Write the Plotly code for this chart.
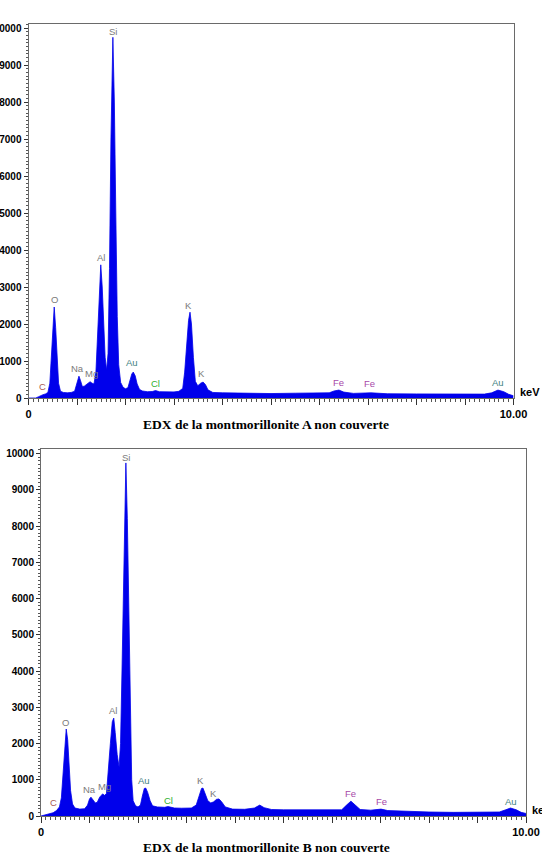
import plotly.graph_objects as go

W, H = 542, 855

# ---------------- data ----------------
energy_a = [0.00, 0.15, 0.20, 0.25, 0.30, 0.35, 0.40, 0.44, 0.47, 0.50, 0.53, 0.56, 0.59, 0.62, 0.66,
            0.72, 0.80, 0.88, 0.95, 0.99, 1.02, 1.04, 1.07, 1.11, 1.15, 1.20, 1.24, 1.27, 1.31, 1.35,
            1.39, 1.42, 1.45, 1.49, 1.52, 1.55, 1.58, 1.61, 1.64, 1.67, 1.70, 1.74, 1.77, 1.80, 1.83,
            1.86, 1.90, 1.95, 2.00, 2.05, 2.09, 2.13, 2.16, 2.20, 2.24, 2.29, 2.35, 2.45, 2.55, 2.62,
            2.70, 2.85, 3.00, 3.10, 3.18, 3.22, 3.26, 3.30, 3.33, 3.36, 3.40, 3.44, 3.49, 3.55, 3.60,
            3.65, 3.70, 3.80, 4.00, 4.30, 4.60, 5.00, 5.50, 6.00, 6.20, 6.30, 6.40, 6.50, 6.70, 7.06,
            7.40, 8.00, 8.50, 9.00, 9.40, 9.55, 9.68, 9.80, 9.90, 10.00]
counts_a = [0, 0, 30, 70, 90, 110, 150, 400, 1000, 1900, 2460, 1900, 1000, 400, 180,
            150, 140, 150, 180, 350, 540, 590, 480, 310, 320, 380, 430, 440, 400, 380,
            700, 1500, 2700, 3600, 3000, 1900, 1100, 750, 1200, 3500, 7000, 9750, 8000, 5000, 2200,
            900, 420, 290, 250, 280, 450, 650, 700, 600, 380, 230, 190, 170, 175, 200,
            170, 160, 165, 180, 260, 700, 1500, 2100, 2320, 2000, 1100, 450, 330, 400, 430,
            360, 220, 150, 140, 130, 125, 120, 130, 125, 140, 190, 215, 160, 125, 140,
            115, 110, 110, 100, 105, 140, 215, 170, 100, 60]

energy_b = [0.00, 0.05, 0.15, 0.25, 0.32, 0.38, 0.42, 0.45, 0.48, 0.52, 0.55, 0.58, 0.61, 0.65, 0.70,
            0.80, 0.90, 0.96, 1.00, 1.03, 1.07, 1.12, 1.16, 1.21, 1.27, 1.31, 1.35, 1.39, 1.43, 1.47,
            1.50, 1.53, 1.57, 1.61, 1.64, 1.67, 1.71, 1.75, 1.78, 1.81, 1.84, 1.87, 1.90, 1.95, 2.00,
            2.05, 2.09, 2.13, 2.16, 2.20, 2.25, 2.30, 2.40, 2.55, 2.62, 2.75, 2.90, 3.10, 3.20, 3.26,
            3.31, 3.34, 3.38, 3.44, 3.50, 3.56, 3.62, 3.67, 3.72, 3.80, 3.95, 4.20, 4.40, 4.51, 4.60,
            4.75, 5.00, 5.50, 6.00, 6.20, 6.30, 6.39, 6.48, 6.58, 6.80, 7.01, 7.15, 7.50, 8.00, 8.50,
            9.00, 9.45, 9.58, 9.68, 9.80, 9.90, 10.00]
counts_b = [0, 20, 60, 90, 150, 250, 500, 1000, 1700, 2400, 2100, 1400, 700, 330, 220,
            190, 200, 300, 470, 520, 450, 360, 380, 520, 610, 570, 620, 1200, 2000, 2600,
            2700, 2300, 1700, 1350, 2000, 4000, 7500, 9740, 8200, 5500, 2600, 1000, 420, 280, 250,
            300, 550, 760, 770, 650, 420, 280, 250, 240, 260, 220, 215, 220, 300, 550,
            760, 770, 650, 420, 360, 390, 460, 470, 400, 250, 190, 185, 220, 300, 230,
            180, 170, 165, 160, 170, 300, 410, 300, 180, 160, 190, 150, 130, 110, 100,
            100, 110, 170, 220, 170, 100, 70]

# element labels: text, energy, counts, colour key
labels_a = [("C", 0.28, 300, "c"), ("O", 0.53, 2650, "g"), ("Na", 1.00, 810, "g"), ("Mg", 1.30, 650, "g"),
            ("Al", 1.50, 3810, "g"), ("Si", 1.74, 9920, "g"), ("Au", 2.14, 950, "au"), ("Cl", 2.62, 400, "cl"),
            ("K", 3.30, 2510, "g"), ("K", 3.56, 650, "g"), ("Fe", 6.40, 430, "fe"), ("Fe", 7.04, 380, "fe"),
            ("Au", 9.68, 430, "au")]
labels_b = [("C", 0.25, 360, "c"), ("O", 0.50, 2590, "g"), ("Na", 1.00, 740, "g"), ("Mg", 1.30, 820, "g"),
            ("Al", 1.48, 2920, "g"), ("Si", 1.75, 9900, "g"), ("Au", 2.12, 970, "au"), ("Cl", 2.62, 440, "cl"),
            ("K", 3.28, 990, "g"), ("K", 3.55, 610, "g"), ("Fe", 6.39, 630, "fe"), ("Fe", 7.03, 390, "fe"),
            ("Au", 9.69, 410, "au")]

titles = ["EDX de la montmorillonite A non couverte", "EDX de la montmorillonite B non couverte"]
y_ticks = [0, 1000, 2000, 3000, 4000, 5000, 6000, 7000, 8000, 9000, 10000]
x_tick_text = ["0", "", "", "", "", "", "", "", "", "", "10.00"]

# ---------------- styling ----------------
label_colors = {"g": "#7a7a7a", "c": "#a85a55", "au": "#3f7f82", "cl": "#2fb02f", "fe": "#a848a8"}
fill_col = "rgb(0,0,235)"

# panel geometry in pixels
panels = [
    dict(left=28.5, right=513.5, top=24, bottom=398, ymax=10110, cap=424),
    dict(left=41, right=526, top=449, bottom=816, ymax=10124, cap=847),
]

fig = go.Figure()
data = [(energy_a, counts_a), (energy_b, counts_b)]
for i, (ex, cy) in enumerate(data):
    sfx = "" if i == 0 else "2"
    fig.add_trace(go.Scatter(x=ex, y=cy, mode="lines", fill="tozeroy",
                             line=dict(color=fill_col, width=0.8), fillcolor=fill_col,
                             xaxis="x" + sfx, yaxis="y" + sfx, showlegend=False, hoverinfo="skip"))

layout = dict(width=W, height=H, margin=dict(l=0, r=0, t=0, b=0, autoexpand=False),
              paper_bgcolor="white", plot_bgcolor="white", showlegend=False)
annotations = []
for i, p in enumerate(panels):
    sfx = "" if i == 0 else "2"
    xd = [p["left"] / W, p["right"] / W]
    yd = [1 - p["bottom"] / H, 1 - p["top"] / H]
    layout["xaxis" + sfx] = dict(
        domain=xd, range=[0, 10], anchor="y" + sfx, showgrid=False, zeroline=False, automargin=False,
        showline=True, linecolor="#6a6a6a", linewidth=1, mirror=True,
        tickmode="array", tickvals=list(range(11)), ticktext=x_tick_text,
        ticks="outside", ticklen=6, tickcolor="#333", tickwidth=1,
        minor=dict(dtick=0.1, ticks="outside", ticklen=3, tickcolor="#555", tickwidth=1),
        tickfont=dict(family="Liberation Sans", size=11, color="black", weight="bold"),
        fixedrange=True)
    layout["yaxis" + sfx] = dict(
        domain=yd, range=[0, p["ymax"]], anchor="x" + sfx, showgrid=False, zeroline=False, automargin=False,
        showline=True, linecolor="#6a6a6a", linewidth=1, mirror=True,
        tickmode="array", tickvals=y_ticks, ticktext=[str(v) for v in y_ticks],
        ticks="outside", ticklen=4, tickcolor="#333", tickwidth=1,
        minor=dict(dtick=100, ticks="outside", ticklen=2, tickcolor="#555", tickwidth=1),
        tickfont=dict(family="Liberation Sans", size=10, color="black", weight="bold"),
        fixedrange=True)
    labs = labels_a if i == 0 else labels_b
    for txt, ex, cy, ck in labs:
        annotations.append(dict(x=ex, y=cy, xref="x" + sfx, yref="y" + sfx, text=txt, showarrow=False,
                                font=dict(family="Liberation Sans", size=9.5,
                                          color=label_colors[ck]),
                                xanchor="center", yanchor="middle"))
    annotations.append(dict(x=(p["right"] + 4) / W, y=1 - (p["bottom"] - 6) / H, xref="paper", yref="paper",
                            text="<b>keV</b>", showarrow=False, xanchor="left", yanchor="middle",
                            font=dict(family="Liberation Sans", size=11, color="black")))
    annotations.append(dict(x=266 / W, y=1 - p["cap"] / H, xref="paper", yref="paper",
                            text="<b>" + titles[i] + "</b>", showarrow=False,
                            xanchor="center", yanchor="middle",
                            font=dict(family="Liberation Serif", size=13.5, color="black")))
layout["annotations"] = annotations
fig.update_layout(**layout)
fig.write_html("out.html")
